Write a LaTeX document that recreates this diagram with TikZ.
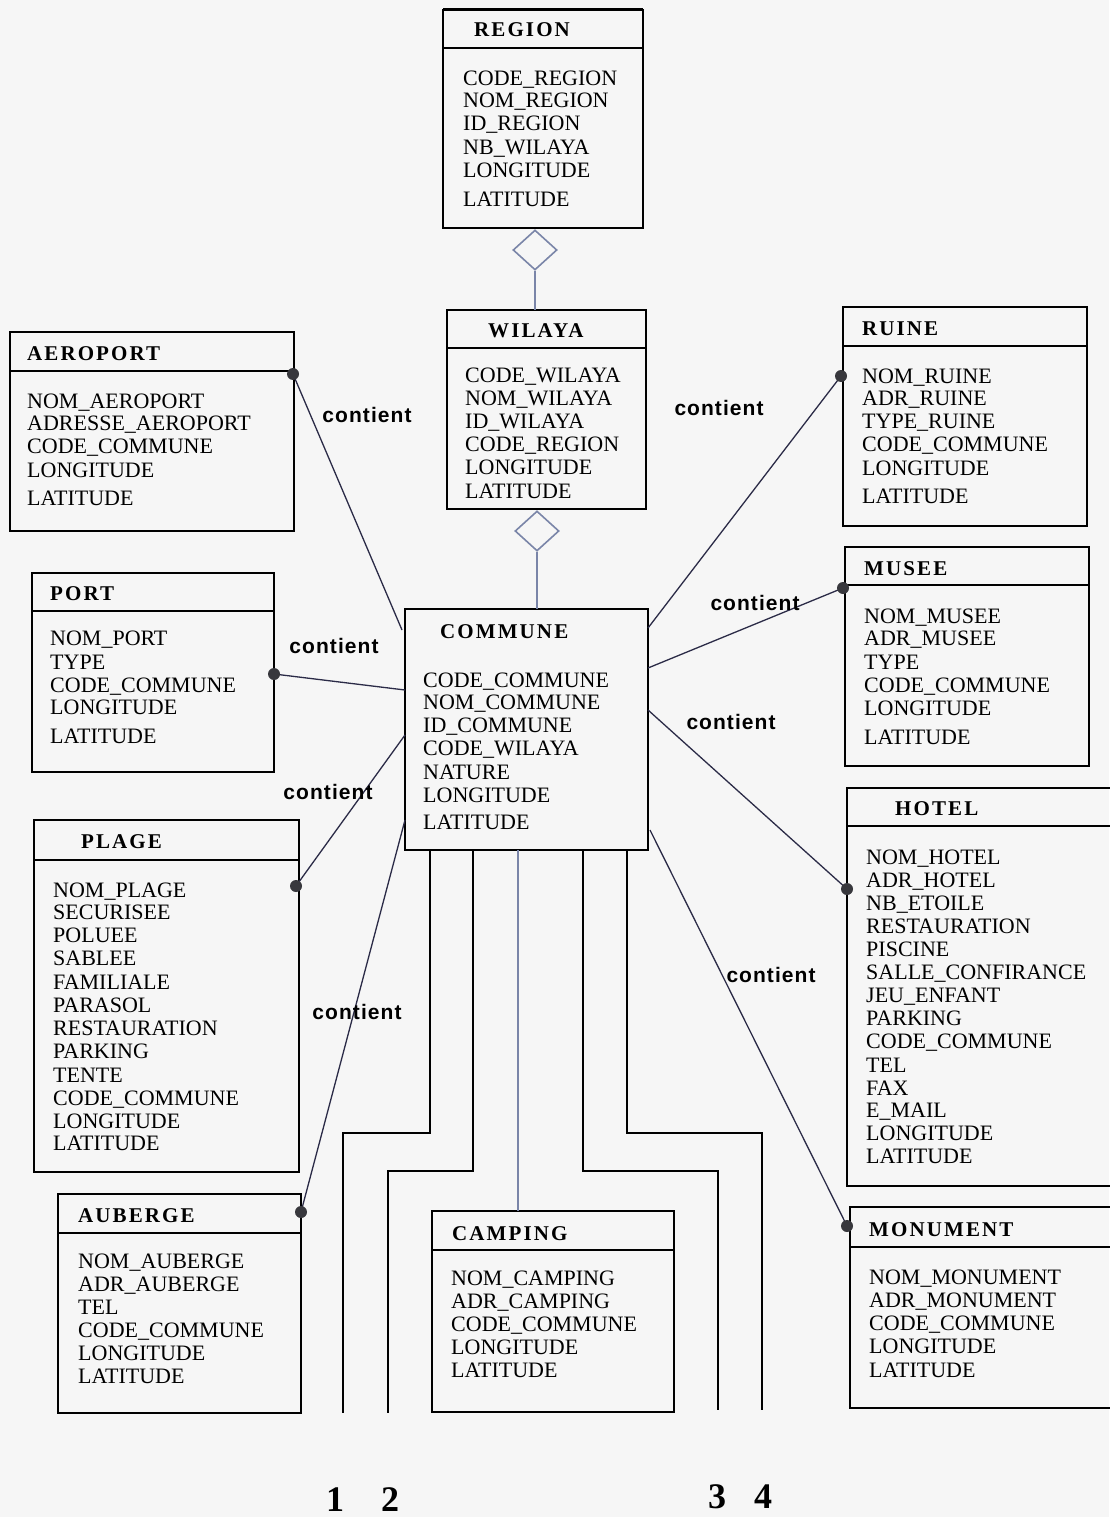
\documentclass[tikz,border=0pt]{standalone}
\usepackage{fontspec}
\setmainfont{Liberation Serif}
\newfontfamily\titlefont[LetterSpace=10]{Liberation Serif}
\newfontfamily\lblfont[LetterSpace=5]{Liberation Sans}
\usetikzlibrary{shapes.geometric,fit}
\definecolor{bg}{rgb}{0.965,0.965,0.965}
\definecolor{wirec}{rgb}{0.17,0.17,0.28}
\definecolor{bluec}{rgb}{0.48,0.52,0.66}
\definecolor{dotc}{rgb}{0.22,0.22,0.24}
\tikzset{
  ent/.style={draw=black, line width=1.8pt, rectangle, inner sep=0pt, outer sep=0pt},
  boxline/.style={draw=black, line width=1.6pt},
  ttl/.style={anchor=west, inner sep=0pt, text height=14pt, text depth=0pt,
    font=\titlefont\bfseries\fontsize{21}{21}\selectfont},
  attr/.style={anchor=west, inner sep=0pt, text height=14.6pt, text depth=0pt,
    font=\fontsize{22}{23}\selectfont},
  rel/.style={inner sep=0pt, font=\lblfont\bfseries\fontsize{21}{21}\selectfont},
  num/.style={inner sep=0pt, font=\bfseries\fontsize{36}{36}\selectfont},
  wire/.style={draw=wirec, line width=1.3pt},
  bwire/.style={draw=bluec, line width=2.2pt},
  trunk/.style={draw=black, line width=2pt},
  dot/.style={circle, fill=dotc, inner sep=0pt, minimum size=12pt},
  dia/.style={diamond, draw=bluec, line width=1.6pt, fill=bg, inner sep=0pt,
    minimum width=44pt, minimum height=40pt, aspect=1.1}
}
\newcommand\entbox[5]{\node[ent, fit={(#2,#3) (#4,#5)}] (#1) {};}
\newcommand\entdiv[3]{\coordinate (#1-div) at (#2,#3);
  \draw[boxline] (#1-div) -- (#1-div -| #1.east);}
\newcommand\attrs[3]{\foreach \yy/\aname [count=\i] in {#3}
  {\node[attr] (#1-a\i) at (#2,\yy) {\aname};}}
\begin{document}
\begin{tikzpicture}[x=1pt,y=-1pt]
\useasboundingbox (0,0) rectangle (1109,1517);
\fill[bg] (0,0) rectangle (1109,1517);

% REGION
\entbox{region}{443}{10}{643}{228}
\draw[line width=3pt] (region.north west) -- (region.north east);
\entdiv{region}{443}{48}
\node[ttl] (region-t) at (474,30) {REGION};
\attrs{region}{463}{78/CODE\_REGION,100/NOM\_REGION,123/ID\_REGION,147/NB\_WILAYA,170/LONGITUDE,199/LATITUDE}

% WILAYA
\entbox{wilaya}{447}{310}{646}{509}
\entdiv{wilaya}{447}{348}
\node[ttl] (wilaya-t) at (488,330) {WILAYA};
\attrs{wilaya}{465}{375/CODE\_WILAYA,398/NOM\_WILAYA,421/ID\_WILAYA,444/CODE\_REGION,467/LONGITUDE,491/LATITUDE}

% AEROPORT
\entbox{aero}{10}{332}{294}{531}
\entdiv{aero}{10}{371}
\node[ttl] (aero-t) at (27,353) {AEROPORT};
\attrs{aero}{27}{401/NOM\_AEROPORT,423/ADRESSE\_AEROPORT,446/CODE\_COMMUNE,470/LONGITUDE,498/LATITUDE}

% RUINE
\entbox{ruine}{843}{307}{1087}{526}
\entdiv{ruine}{843}{346}
\node[ttl] (ruine-t) at (862,328) {RUINE};
\attrs{ruine}{862}{376/NOM\_RUINE,398/ADR\_RUINE,421/TYPE\_RUINE,444/CODE\_COMMUNE,468/LONGITUDE,496/LATITUDE}

% PORT
\entbox{port}{32}{573}{274}{772}
\entdiv{port}{32}{611}
\node[ttl] (port-t) at (50,593) {PORT};
\attrs{port}{50}{638/NOM\_PORT,662/TYPE,685/CODE\_COMMUNE,707/LONGITUDE,736/LATITUDE}

% COMMUNE
\entbox{commune}{405}{609}{648}{850}
\node[ttl] (commune-t) at (440,631) {COMMUNE};
\attrs{commune}{423}{680/CODE\_COMMUNE,702/NOM\_COMMUNE,725/ID\_COMMUNE,748/CODE\_WILAYA,772/NATURE,795/LONGITUDE,822/LATITUDE}

% MUSEE
\entbox{musee}{845}{547}{1089}{766}
\entdiv{musee}{845}{585}
\node[ttl] (musee-t) at (864,568) {MUSEE};
\attrs{musee}{864}{616/NOM\_MUSEE,638/ADR\_MUSEE,662/TYPE,685/CODE\_COMMUNE,708/LONGITUDE,737/LATITUDE}

% PLAGE
\entbox{plage}{34}{820}{299}{1172}
\entdiv{plage}{34}{860}
\node[ttl] (plage-t) at (81,841) {PLAGE};
\attrs{plage}{53}{890/NOM\_PLAGE,912/SECURISEE,935/POLUEE,958/SABLEE,982/FAMILIALE,1005/PARASOL,1028/RESTAURATION,1051/PARKING,1075/TENTE,1098/CODE\_COMMUNE,1121/LONGITUDE,1143/LATITUDE}

% HOTEL
\entbox{hotel}{847}{788}{1116}{1186}
\entdiv{hotel}{847}{826}
\node[ttl] (hotel-t) at (895,808) {HOTEL};
\attrs{hotel}{866}{857/NOM\_HOTEL,880/ADR\_HOTEL,903/NB\_ETOILE,926/RESTAURATION,949/PISCINE,972/SALLE\_CONFIRANCE,995/JEU\_ENFANT,1018/PARKING,1041/CODE\_COMMUNE,1065/TEL,1088/FAX,1110/E\_MAIL,1133/LONGITUDE,1156/LATITUDE}

% AUBERGE
\entbox{auberge}{58}{1194}{301}{1413}
\entdiv{auberge}{58}{1233}
\node[ttl] (auberge-t) at (78,1215) {AUBERGE};
\attrs{auberge}{78}{1261/NOM\_AUBERGE,1284/ADR\_AUBERGE,1307/TEL,1330/CODE\_COMMUNE,1353/LONGITUDE,1376/LATITUDE}

% CAMPING
\entbox{camping}{432}{1211}{674}{1412}
\entdiv{camping}{432}{1250}
\node[ttl] (camping-t) at (452,1233) {CAMPING};
\attrs{camping}{451}{1278/NOM\_CAMPING,1301/ADR\_CAMPING,1324/CODE\_COMMUNE,1347/LONGITUDE,1370/LATITUDE}

% MONUMENT
\entbox{monument}{850}{1207}{1116}{1408}
\entdiv{monument}{850}{1247}
\node[ttl] (monument-t) at (869,1229) {MONUMENT};
\attrs{monument}{869}{1277/NOM\_MONUMENT,1300/ADR\_MONUMENT,1323/CODE\_COMMUNE,1346/LONGITUDE,1370/LATITUDE}

% aggregation diamonds
\node[dia] (dg1) at (535,250) {};
\draw[bwire] (dg1.south) -- (dg1.south |- wilaya.north);
\node[dia] (dg2) at (537,531) {};
\draw[bwire] (dg2.south) -- (dg2.south |- commune.north);

% attachment points on COMMUNE
\coordinate (cA) at (402,630);
\coordinate (cP) at (405,690);
\coordinate (cL) at (405,735);
\coordinate (cB) at (405,820);
\coordinate (cR) at (648,628);
\coordinate (cM) at (648,668);
\coordinate (cH) at (648,710);
\coordinate (cN) at (650,830);

% connectors
\draw[wire] (cA) -- (293,374) node[dot] (dA) {};
\draw[wire] (cP) -- (274,674) node[dot] (dP) {};
\draw[wire] (cL) -- (296,886) node[dot] (dL) {};
\draw[wire] (cB) -- (301,1212) node[dot] (dB) {};
\draw[wire] (cR) -- (841,376) node[dot] (dR) {};
\draw[wire] (cM) -- (843,588) node[dot] (dM) {};
\draw[wire] (cH) -- (847,889) node[dot] (dH) {};
\draw[wire] (cN) -- (847,1226) node[dot] (dN) {};

% relation labels
\node[rel] (lA) at (367,415) {contient};
\node[rel] (lP) at (334,646) {contient};
\node[rel] (lL) at (328,792) {contient};
\node[rel] (lB) at (357,1012) {contient};
\node[rel] (lR) at (719,408) {contient};
\node[rel] (lM) at (755,603) {contient};
\node[rel] (lH) at (731,722) {contient};
\node[rel] (lN) at (771,975) {contient};

% trunks below COMMUNE
\coordinate (t1) at (430,850);
\coordinate (t2) at (473,850);
\coordinate (t3) at (583,850);
\coordinate (t4) at (627,850);
\coordinate (e1) at (343,1413);
\coordinate (e2) at (388,1413);
\coordinate (e3) at (718,1410);
\coordinate (e4) at (762,1410);
\draw[trunk] (t1) -- ++(0,283) -| (e1);
\draw[trunk] (t2) -- ++(0,321) -| (e2);
\draw[trunk] (t3) -- ++(0,321) -| (e3);
\draw[trunk] (t4) -- ++(0,283) -| (e4);
\coordinate (m1) at (518,850);
\draw[bwire] (m1) -- (m1 |- camping.north);

% numbers
\node[num] (n1) at (335,1500) {1};
\node[num] (n2) at (390,1500) {2};
\node[num] (n3) at (717,1497) {3};
\node[num] (n4) at (763,1497) {4};
\end{tikzpicture}
\end{document}
